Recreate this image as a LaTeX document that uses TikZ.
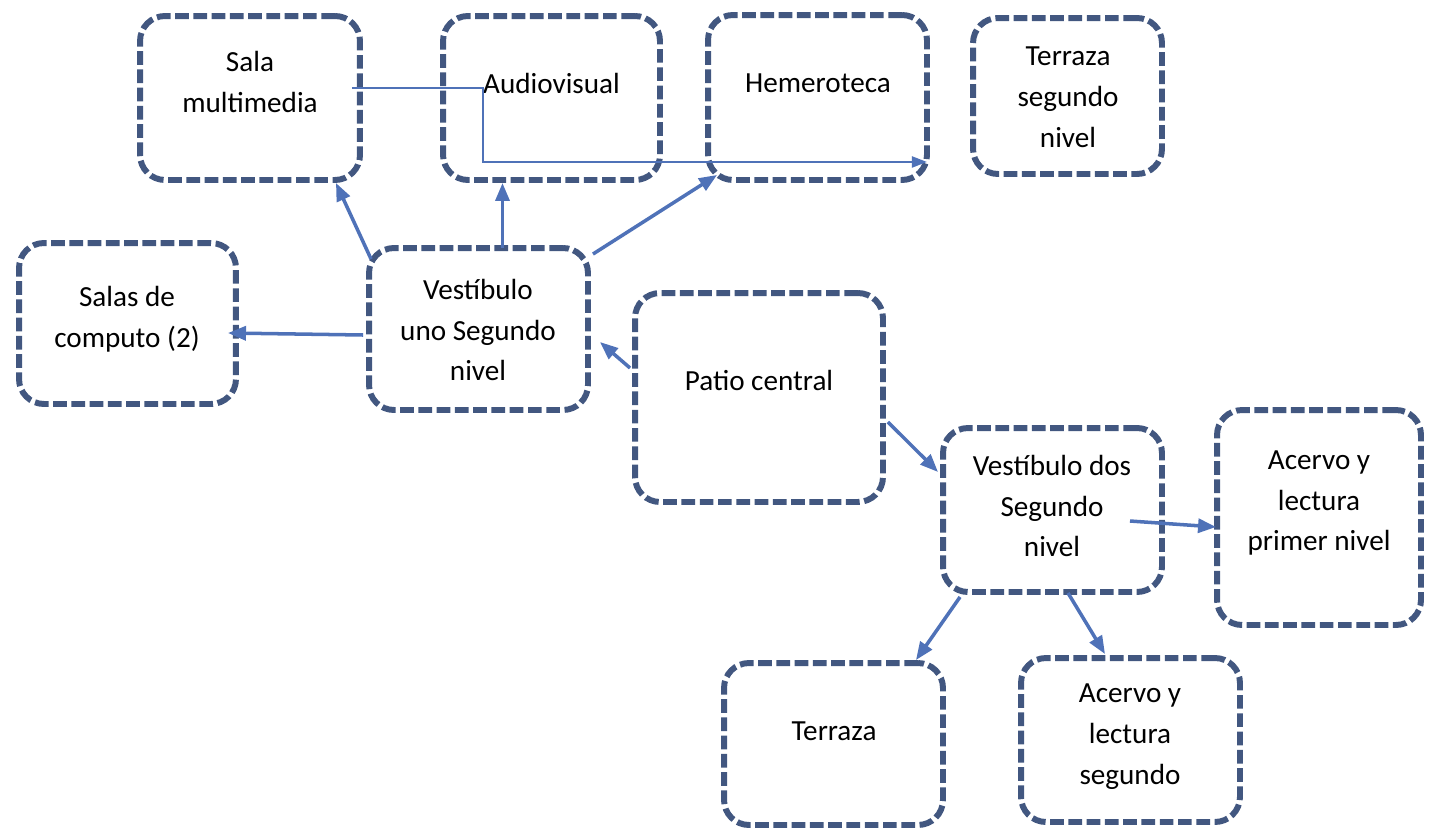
\documentclass[tikz,border=0pt]{standalone}
\usepackage{fontspec}
\setmainfont{Carlito}
\usetikzlibrary{arrows.meta,calc}
\definecolor{boxc}{RGB}{66,87,128}
\definecolor{arrc}{RGB}{79,114,184}
\tikzset{
  area/.style={draw=boxc, line width=3.4pt, dash pattern=on 7.8pt off 2.6pt,
    rounded corners=0.5cm, minimum width=4.38cm, minimum height=3.28cm, inner sep=0pt},
  lbl/.style={align=center, inner sep=0pt, font=\fontsize{16.6}{23.3}\selectfont},
  arr/.style={draw=arrc, line width=2pt, -{Triangle[length=0.36cm,width=0.28cm]}},
  arrthin/.style={draw=arrc, line width=1.2pt, -{Triangle[length=0.3cm,width=0.22cm]}}
}
\begin{document}
\begin{tikzpicture}[x=0.02cm, y=-0.02cm]
  \useasboundingbox (0,0) rectangle (1429,832);
  % boxes, top row
  \node (sm) [area, minimum width=4.4cm] at (250,98) {};
  \node (av) [area, minimum width=4.34cm] at (551.5,98) {};
  \node (hm) [area, minimum height=3.3cm] at (817.5,97.5) {};
  \node (tsn) [area, minimum width=3.78cm, minimum height=3.12cm] at (1067.5,96) {};
  % middle
  \node (sc) [area, minimum width=4.34cm, minimum height=3.22cm] at (127.5,323.5) {};
  \node (vu) [area, minimum height=3.24cm] at (478.5,329) {};
  \node (pc) [area, minimum width=4.96cm, minimum height=4.18cm] at (759,397.5) {};
  \node (vd) [area] at (1052.5,510) {};
  \node (ap) [area, minimum width=4.08cm, minimum height=4.3cm] at (1319,517.5) {};
  % bottom
  \node (tz) [area, minimum height=3.24cm] at (833.5,744) {};
  \node (as) [area] at (1130.5,740) {};

  % texts
  \node (smt) [lbl] at (250,82) {Sala\\multimedia};
  \node (avt) [lbl] at (551.5,83) {Audiovisual};
  \node (hmt) [lbl] at (818,83) {Hemeroteca};
  \node (tsnt) [lbl] at (1068,97) {Terraza\\segundo\\nivel};
  \node (sct) [lbl] at (127,319) {Salas de\\computo (2)};
  \node (vut) [lbl] at (478,330) {Vestíbulo\\uno Segundo\\nivel};
  \node (pct) [lbl] at (759,380) {Patio central};
  \node (vdt) [lbl] at (1052,506) {Vestíbulo dos\\Segundo\\nivel};
  \node (apt) [lbl] at (1319,503) {Acervo y\\lectura\\primer nivel};
  \node (tzt) [lbl] at (834,731) {Terraza};
  \node (ast) [lbl] at (1130,737) {Acervo y\\lectura\\segundo};

  % connectors
  \draw[arr] ($(vu.north west)+(5,14)$) -- ($(sm.south east)+(-27,0)$);
  \draw[arr] ($(vu.north)+(24,3)$) coordinate (vua) -- (vua |- av.south);
  \draw[arr] ($(vu.north east)+(2,9)$) -- ($(hm.south west)+(12,-8)$);
  \draw[arr] ($(vu.west)+(-3,6)$) -- ($(sc.east)+(-11,9.5)$);
  \draw[arr] ($(pc.west)+(-2,-29.5)$) -- ($(vu.east)+(9,13)$);
  \draw[arr] ($(pc.east)+(2,24.5)$) -- ($(vd.west)+(-2,-38)$);
  \draw[arr] ($(vd.east)+(-35,11)$) -- ($(ap.west)+(2,9.5)$);
  \draw[arr] ($(vd.south west)+(20,2)$) -- ($(tz.north east)+(-30,0)$);
  \draw[arr] ($(vd.south)+(15.5,-2)$) -- ($(as.north)+(-25.5,-1)$);
  \draw[arrthin] ($(sm.east)+(-11,-10)$) -- ++(131,0) |- ($(hm.south east)+(-3,-21)$);
\end{tikzpicture}
\end{document}
